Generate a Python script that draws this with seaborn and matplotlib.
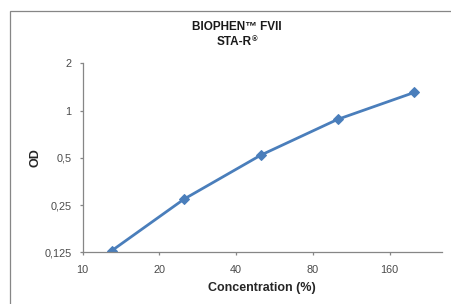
import seaborn as sns
import matplotlib.pyplot as plt
import pandas as pd
from matplotlib.patches import Rectangle

# values
concentration = [13, 25, 50, 100, 200]
od = [0.128, 0.273, 0.52, 0.878, 1.304]

x_ticks = [10, 20, 40, 80, 160]
x_labels = ["10", "20", "40", "80", "160"]
y_ticks = [0.125, 0.25, 0.5, 1, 2]
y_labels = ["0,125", "0,25", "0,5", "1", "2"]

sns.set_style("white")
plt.rcParams['font.family'] = ['Liberation Sans', 'DejaVu Sans']

df = pd.DataFrame({"Concentration": concentration, "OD": od})

fig = plt.figure(figsize=(4.51, 3.04), dpi=100)
ax = fig.add_axes([0.1834, 0.170, 0.979 - 0.1834, 0.7918 - 0.170])

sns.lineplot(data=df, x="Concentration", y="OD", ax=ax, color="#4a7ebb",
             linewidth=2.0, marker="D", markersize=5, markeredgecolor="#4a7ebb")

ax.set_xscale("log", base=2)
ax.set_yscale("log", base=2)
ax.set_xlim(10, 256)
ax.set_ylim(0.125, 2)
ax.set_xticks(x_ticks, x_labels)
ax.set_yticks(y_ticks, y_labels)
ax.minorticks_off()

for side in ["top", "right"]:
    ax.spines[side].set_visible(False)
for side in ["left", "bottom"]:
    ax.spines[side].set_color("#868686")
    ax.spines[side].set_linewidth(0.9)

ax.tick_params(axis="both", which="major", direction="out", length=2.5, width=0.9,
               color="#868686", labelsize=7.8, labelcolor="#4a4a4a")
ax.tick_params(axis="y", pad=5.5, left=True)
ax.tick_params(axis="x", pad=6.5, bottom=True)

ax.set_xlabel("Concentration (%)", fontsize=9, fontweight="bold", labelpad=5)
ax.set_ylabel("OD", fontsize=9, fontweight="bold", labelpad=2)

# two-line title, registered mark as a small superscript
fig.text(237 / 451, 1 - 26.7 / 304, "BIOPHEN™ FVII", ha="center", va="center",
         fontsize=8.5, fontweight="bold", color="#1a1a1a")
t2 = fig.text(234 / 451, 1 - 41.7 / 304, "STA-R", ha="center", va="center",
              fontsize=8.5, fontweight="bold", color="#1a1a1a")
ax.annotate("®", xy=(1.0, 0.95), xycoords=t2, ha="left", va="top",
            fontsize=5.5, fontweight="bold", color="#1a1a1a")

# outer chart frame
fig.patches.append(Rectangle((10 / 451, -0.2), 1.2, (304 - 10.7) / 304 + 0.2,
                             transform=fig.transFigure, fill=False,
                             edgecolor="#868686", linewidth=0.9))

fig.savefig("out.png", dpi=100)
plt.close(fig)
